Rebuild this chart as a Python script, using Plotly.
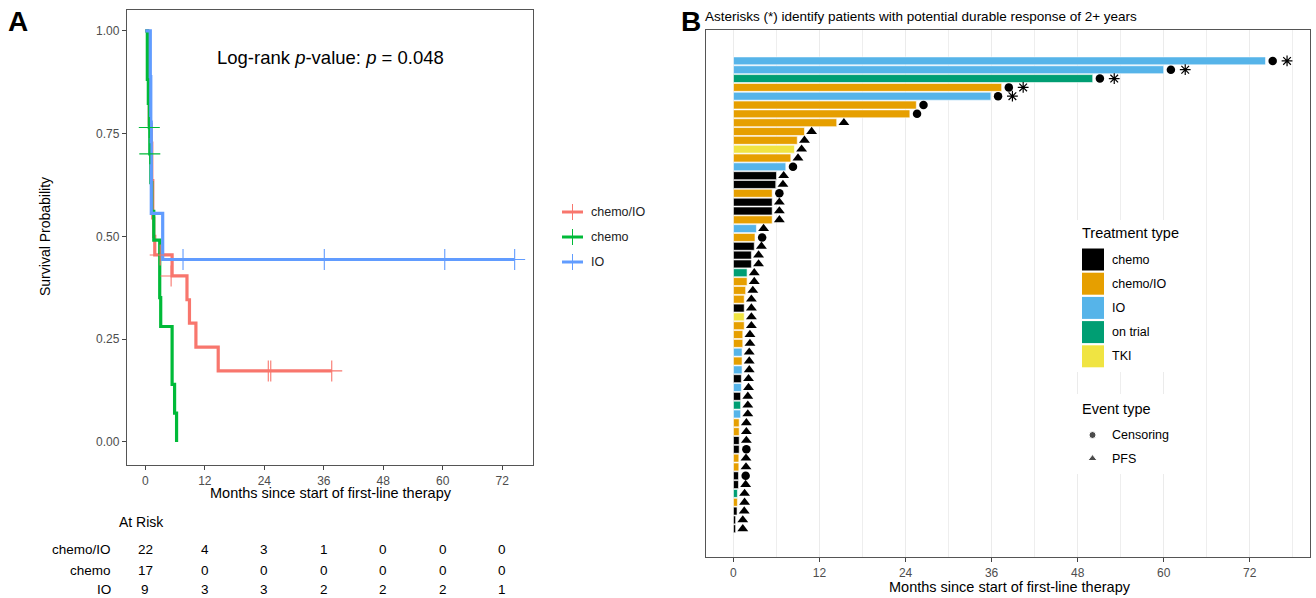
import plotly.graph_objects as go

W, H = 1316, 598
FONT = "Liberation Sans, Arial, sans-serif"

# ---------------- Panel A data (Kaplan-Meier steps) ----------------
groups = ["chemo/IO", "chemo", "IO"]
km_colors = {"chemo/IO": "#F8766D", "chemo": "#00BA38", "IO": "#619CFF"}

chemoio_t = [0, 0.55, 0.75, 0.8, 1.2, 1.3, 1.5, 1.7, 1.9, 5.4, 8.4, 8.9, 10.2, 14.7, 37.6]
chemoio_s = [1, 0.955, 0.864, 0.773, 0.727, 0.636, 0.545, 0.5, 0.455, 0.404, 0.346, 0.289, 0.231, 0.173, 0.173]
chemoio_cens_t = [3.0, 5.2, 24.8, 25.3, 37.6]
chemoio_cens_s = [0.455, 0.404, 0.173, 0.173, 0.173]

chemo_t = [0, 0.4, 0.6, 0.8, 0.9, 1.1, 1.3, 1.7, 2.9, 3.1, 5.4, 5.9, 6.3]
chemo_s = [1, 0.882, 0.824, 0.765, 0.701, 0.631, 0.561, 0.491, 0.351, 0.281, 0.140, 0.070, 0.0]
chemo_cens_t = [0.8, 0.9]
chemo_cens_s = [0.765, 0.701]

io_t = [0, 1.0, 1.1, 1.2, 3.5, 74.5]
io_s = [1, 0.889, 0.778, 0.556, 0.444, 0.444]
io_cens_t = [7.6, 36.1, 60.4, 74.5]
io_cens_s = [0.444, 0.444, 0.444, 0.444]

risk_times = [0, 12, 24, 36, 48, 60, 72]
risk_chemoio = [22, 4, 3, 1, 0, 0, 0]
risk_chemo = [17, 0, 0, 0, 0, 0, 0]
risk_io = [9, 3, 3, 2, 2, 2, 1]

# ---------------- Panel B data (swimmer plot, top to bottom) ----------------
treatment = ["IO", "IO", "on trial", "chemo/IO", "IO", "chemo/IO", "chemo/IO", "chemo/IO",
             "chemo/IO", "chemo/IO", "TKI", "chemo/IO", "IO", "chemo", "chemo", "chemo/IO",
             "chemo", "chemo", "chemo/IO", "IO", "chemo/IO", "chemo", "chemo", "chemo",
             "on trial", "chemo/IO", "chemo/IO", "chemo/IO", "chemo", "TKI", "chemo/IO", "chemo/IO",
             "chemo/IO", "IO", "chemo/IO", "IO", "chemo", "IO", "chemo", "on trial",
             "IO", "chemo/IO", "chemo/IO", "chemo", "chemo", "chemo/IO", "chemo/IO", "chemo",
             "chemo", "on trial", "chemo/IO", "chemo", "chemo", "chemo"]
months = [74.2, 60.0, 50.1, 37.4, 35.9, 25.5, 24.6, 14.4,
          9.9, 8.9, 8.5, 8.0, 7.3, 6.0, 5.9, 5.4,
          5.4, 5.4, 5.4, 3.2, 3.0, 2.9, 2.5, 2.5,
          1.9, 1.9, 1.7, 1.5, 1.5, 1.5, 1.5, 1.3,
          1.3, 1.2, 1.2, 1.2, 1.1, 1.1, 1.0, 1.0,
          1.0, 0.8, 0.8, 0.8, 0.8, 0.75, 0.75, 0.7,
          0.7, 0.55, 0.55, 0.5, 0.3, 0.3]
event = ["Censoring"] * 7 + ["PFS"] * 5 + ["Censoring", "PFS", "PFS", "Censoring",
         "PFS", "PFS", "PFS", "PFS", "Censoring"] + ["PFS"] * 23 + \
        ["Censoring", "PFS", "PFS", "Censoring"] + ["PFS"] * 6
durable = [True] * 5 + [False] * 49
patients = ["pt%02d" % (i + 1) for i in range(len(months))]

treat_types = ["chemo", "chemo/IO", "IO", "on trial", "TKI"]
treat_colors = {"chemo": "#000000", "chemo/IO": "#E69F00", "IO": "#56B4E9",
                "on trial": "#009E73", "TKI": "#F0E442"}
event_types = ["Censoring", "PFS"]
event_symbols = {"Censoring": "circle", "PFS": "triangle-up"}

MARK_OFFSET = 1.0   # marker drawn just past bar end
STAR_OFFSET = 3.0

BX0, BX1, BY0, BY1 = 706, 1310, 30, 557


def px(x):
    return x / W


def py(y):
    return 1 - y / H


fig = go.Figure()

# ---- Panel A traces ----
km = {"chemo/IO": (chemoio_t, chemoio_s, chemoio_cens_t, chemoio_cens_s),
      "chemo": (chemo_t, chemo_s, chemo_cens_t, chemo_cens_s),
      "IO": (io_t, io_s, io_cens_t, io_cens_s)}
for g in groups:
    t, s, ct, cs = km[g]
    fig.add_trace(go.Scatter(x=t, y=s, mode="lines", line=dict(color=km_colors[g], width=3.2, shape="hv"),
                             showlegend=False, xaxis="x", yaxis="y", hoverinfo="skip"))
for g in groups:
    t, s, ct, cs = km[g]
    fig.add_trace(go.Scatter(x=ct, y=cs, mode="markers",
                             marker=dict(symbol="cross-thin", size=15, color=km_colors[g],
                                         line=dict(color=km_colors[g], width=1.1)),
                             showlegend=False, xaxis="x", yaxis="y", hoverinfo="skip"))

# ---- Panel B traces ----
fig.add_trace(go.Bar(x=months, y=patients, orientation="h",
                     marker=dict(color=[treat_colors[t] for t in treatment], line=dict(color="white", width=0.6)),
                     showlegend=False, xaxis="x2", yaxis="y2", hoverinfo="skip"))
for ev in event_types:
    xs = [m + MARK_OFFSET for m, e in zip(months, event) if e == ev]
    ys = [p for p, e in zip(patients, event) if e == ev]
    fig.add_trace(go.Scatter(x=xs, y=ys, mode="markers",
                             marker=dict(symbol=event_symbols[ev], size=8.5 if ev == "Censoring" else 9.5, color="black"),
                             showlegend=False, xaxis="x2", yaxis="y2", hoverinfo="skip"))
fig.add_trace(go.Scatter(x=[m + STAR_OFFSET for m, d in zip(months, durable) if d],
                         y=[p for p, d in zip(patients, durable) if d], mode="markers",
                         marker=dict(symbol="asterisk-open", size=9, color="black",
                                     line=dict(color="black", width=1.2)),
                         showlegend=False, xaxis="x2", yaxis="y2", hoverinfo="skip"))

axis_common = dict(showline=True, mirror=True, linecolor="#555555", linewidth=1.3, zeroline=False,
                   ticks="outside", ticklen=4, tickcolor="#444444", tickwidth=1,
                   tickfont=dict(family=FONT, size=12, color="#4D4D4D"))

fig.update_layout(
    width=W, height=H, margin=dict(l=0, r=0, t=0, b=0),
    paper_bgcolor="white", plot_bgcolor="white", barmode="overlay", bargap=0.1,
    font=dict(family=FONT),
    xaxis=dict(domain=[px(127), px(533)], range=[-3.7, 78.2], tickvals=risk_times,
               showgrid=False, anchor="y", **axis_common),
    yaxis=dict(domain=[py(465), py(10)], range=[-0.056, 1.051], tickvals=[0, 0.25, 0.5, 0.75, 1.0],
               ticktext=["0.00", "0.25", "0.50", "0.75", "1.00"], showgrid=False, anchor="x", **axis_common),
    xaxis2=dict(domain=[px(BX0), px(BX1)], range=[-3.83, 80.4], tick0=0, dtick=12,
                showgrid=True, gridcolor="#EBEBEB", gridwidth=1.1,
                minor=dict(dtick=6, tick0=0, showgrid=True, gridcolor="#EEEEEE", gridwidth=0.8, ticks=""),
                anchor="y2", **axis_common),
    yaxis2=dict(domain=[py(BY1), py(BY0)], type="category", categoryorder="array", categoryarray=patients,
                range=[56.2, -3.5], showticklabels=False, showgrid=False, showline=True, mirror=True,
                linecolor="#555555", linewidth=1.3, ticks="", zeroline=False, anchor="x2"),
    xaxis3=dict(domain=[px(1085), px(1100)], range=[0, 1], visible=False, anchor="y3"),
    yaxis3=dict(domain=[py(470), py(423)], range=[0, 1], visible=False, anchor="x3"),
)

# Legend key glyphs for event type (own tiny invisible axes)
fig.add_trace(go.Scatter(x=[0.5, 0.5], y=[1 - (435 - 423) / 47, 1 - (458.5 - 423) / 47],
                         xaxis="x3", yaxis="y3", mode="markers",
                         marker=dict(symbol=[event_symbols[e] for e in event_types], size=[7, 8], color="black"),
                         showlegend=False, hoverinfo="skip"))

shapes = []
ann = []


def text(x, y, s, size, xanchor="center", color="black", angle=0, xref="paper"):
    ann.append(dict(x=x, y=y, xref=xref, yref="paper", text=s, showarrow=False, xanchor=xanchor,
                    yanchor="middle", textangle=angle, borderpad=0,
                    font=dict(family=FONT, size=size, color=color)))


def prect(x0, x1, y0, y1, color):
    shapes.append(dict(type="rect", xref="paper", yref="paper", x0=px(x0), x1=px(x1), y0=py(y1), y1=py(y0),
                       fillcolor=color, line=dict(width=0), layer="above"))


# Panel labels / titles
text(px(18), py(22), "<b>A</b>", 28)
text(px(691), py(22), "<b>B</b>", 28)
text(px(704), py(17), "Asterisks (*) identify patients with potential durable response of 2+ years", 13.5, "left")
text(px(330), py(57), "Log-rank <i>p</i>-value: <i>p</i> = 0.048", 18.5)
text(px(45), py(237), "Survival Probability", 14, angle=-90)
text(px(331), py(493), "Months since start of first-line therapy", 14.5)
text(px(1010), py(587), "Months since start of first-line therapy", 14.5)

# At risk table
text(px(118), py(522), "At Risk", 14, "left")
for row_y, lab, vals in [(549.5, "chemo/IO", risk_chemoio), (570, "chemo", risk_chemo), (589.5, "IO", risk_io)]:
    text(px(112), py(row_y), lab, 13.5, "right")
    for t, v in zip(risk_times, vals):
        text(t, py(row_y), str(v), 13.5, xref="x")

# Panel A legend (manual)
for g, ly in zip(groups, [212, 237, 262]):
    shapes.append(dict(type="line", xref="paper", yref="paper", x0=px(562), x1=px(583), y0=py(ly), y1=py(ly),
                       line=dict(color=km_colors[g], width=3)))
    shapes.append(dict(type="line", xref="paper", yref="paper", x0=px(572.5), x1=px(572.5), y0=py(ly - 8),
                       y1=py(ly + 8), line=dict(color=km_colors[g], width=1)))
    text(px(590), py(ly), g, 12.5, "left", color="#222222")

# Panel B legends (manual). White boxes hide gridlines; a gap (no gridline there) keeps key glyphs visible.
prect(1072, 1205, 220, 372, "white")
prect(1072, 1084, 394, 474, "white")
prect(1101, 1205, 394, 474, "white")
text(px(1081), py(233), "Treatment type", 14.5, "left")
for i, tt in enumerate(treat_types):
    top = 248.5 + i * 24.2
    prect(1082, 1104, top, top + 22, treat_colors[tt])
    text(px(1111), py(top + 11), tt, 12.5, "left")
text(px(1081), py(409), "Event type", 14.5, "left")
for i, ev in enumerate(event_types):
    ly = 435 + i * 23.5
    text(px(1111), py(ly), ev, 12.5, "left")

fig.update_layout(shapes=shapes, annotations=ann)

fig.write_html("out.html", config={"displayModeBar": False},
               post_script="document.body.style.margin='0px';")
